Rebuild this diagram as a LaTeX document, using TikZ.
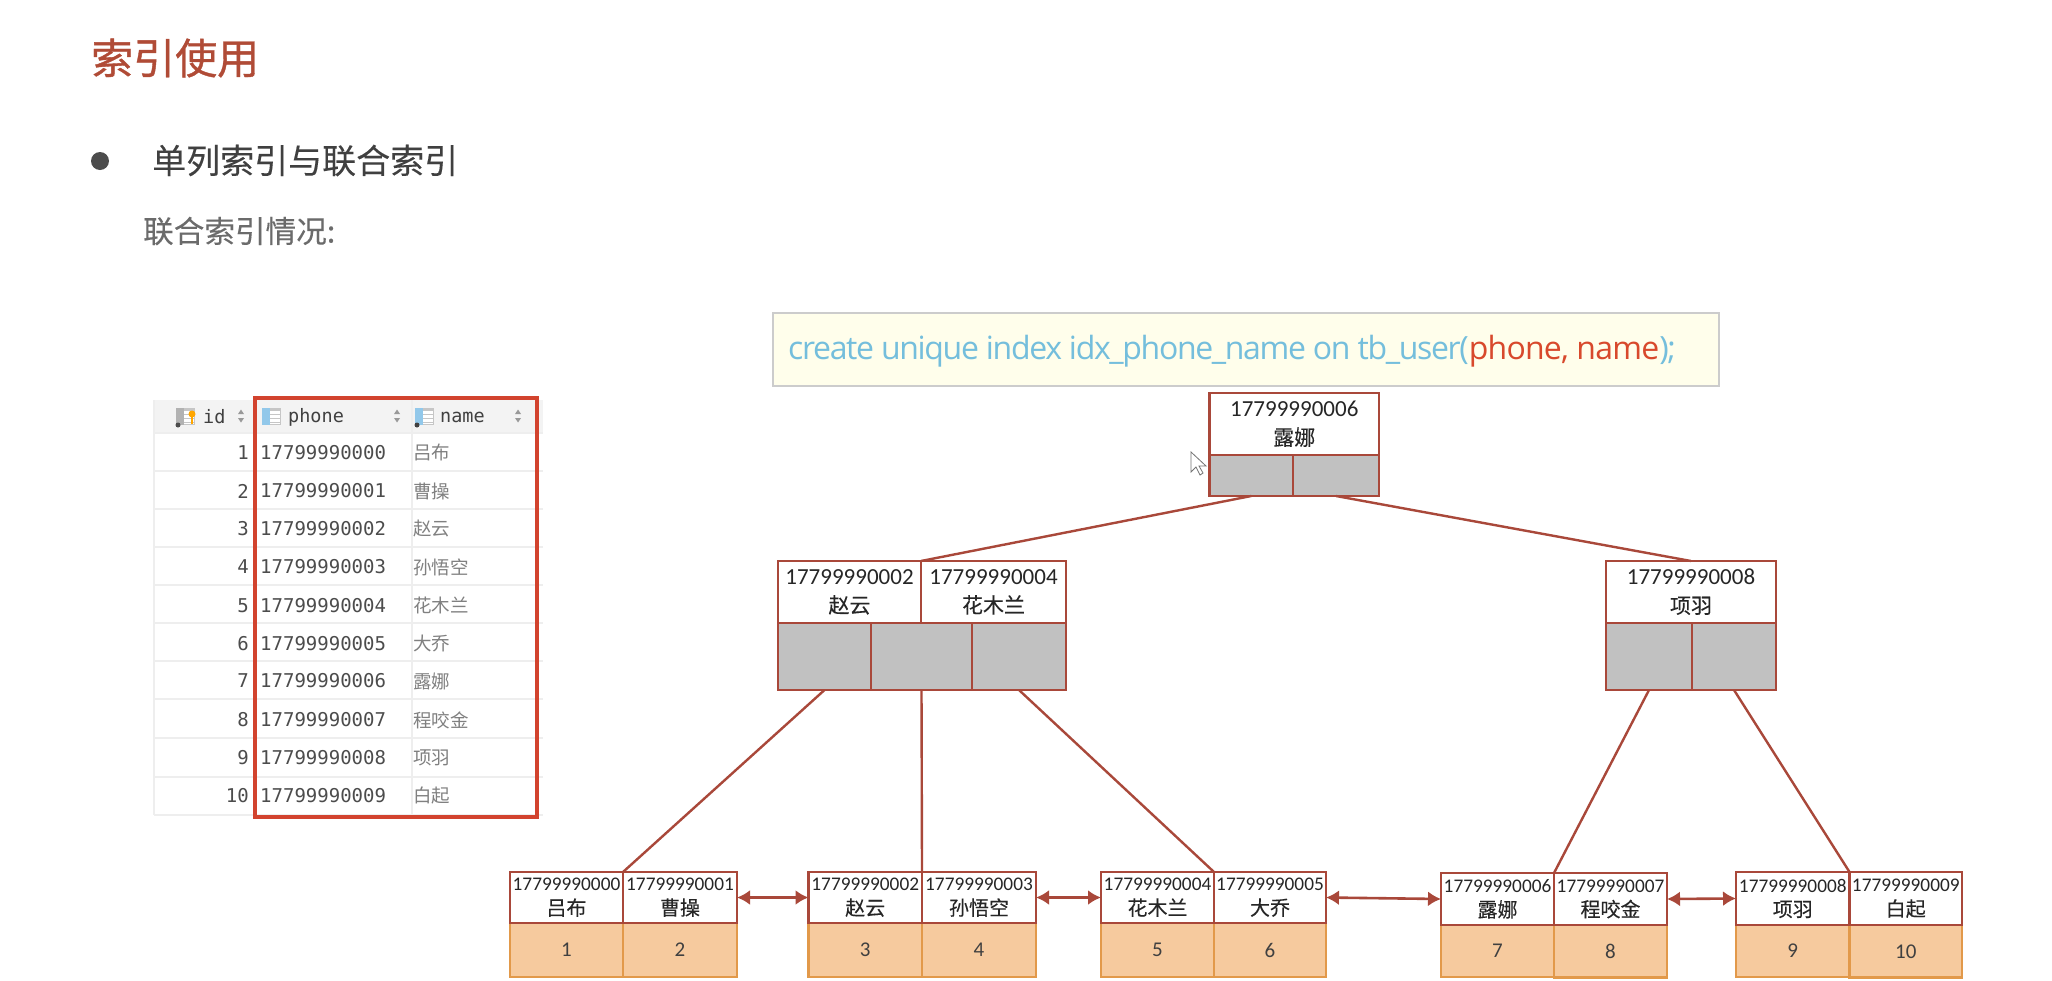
\documentclass[tikz,border=0pt]{standalone}
\usepackage{fontspec}
\setmainfont{Carlito}
\newfontfamily\cjk{Noto Sans CJK SC}
\newfontfamily\cjkheavy[FakeBold=0.9]{Noto Sans CJK SC}
\newfontfamily\cjkmid[FakeBold=0.2]{Noto Sans CJK SC}
\newfontfamily\codefont[LetterSpace=-4.2]{Open Sans}
\newfontfamily\codefontred[LetterSpace=-2.4]{Open Sans}
\newfontfamily\monof{DejaVu Sans Mono}
\usetikzlibrary{arrows.meta}
\definecolor{brick}{HTML}{A9483A}
\definecolor{titlered}{HTML}{B04B36}
\definecolor{cellgray}{HTML}{C1C1C1}
\definecolor{leaffill}{HTML}{F6CA9E}
\definecolor{leafline}{HTML}{E2994A}
\definecolor{codeblue}{HTML}{74BEDC}
\definecolor{codered}{HTML}{D8492C}
\definecolor{boxred}{HTML}{D2432E}
\definecolor{gridc}{HTML}{EEEEEE}
\definecolor{headc}{HTML}{F3F3F3}
\definecolor{iconblue}{HTML}{92C8EA}
\newcommand{\cellbox}[7]{%
  \pgfmathsetmacro\cw{#4-(#2)}\pgfmathsetmacro\ch{#5-(#3)}%
  \node[#6,minimum width=\cw pt,minimum height=\ch pt] (#1) at ({(#2+#4)/2},{(#3+#5)/2}) {#7};}
\newcommand{\colicon}[3]{% x, y, colour of first strip
  \fill[gray!45] (#1,#2) rectangle ++(19,17);
  \fill[white] (#1+8,#2+1.5) rectangle ++(10,14);
  \foreach \q in {2,6,10,14}{\fill[gray!45] (#1+8,#2+\q) rectangle ++(10,1.2);}
  \fill[#3] (#1,#2) rectangle ++(7.5,17);}
\newcommand{\sorticon}[1]{%
  \fill[gray!80] (#1-3,414) -- (#1+3,414) -- (#1,409.5) -- cycle;
  \fill[gray!80] (#1-3,418) -- (#1+3,418) -- (#1,422.5) -- cycle;}
\newcommand{\bigname}[1]{{\cjkmid\fontsize{21}{24}\selectfont\raisebox{-1.5pt}{#1}}}
\newcommand{\smallname}[1]{{\cjkmid\fontsize{20}{24}\selectfont\raisebox{-0.5pt}{#1}}}
\tikzset{
  cellbase/.style={rectangle,inner sep=0pt,outer sep=0pt,align=center,line width=2.3pt},
  bigkey/.style={cellbase,draw=brick,fill=white,text=black!85,font=\fontsize{23}{27}\selectfont},
  smallkey/.style={cellbase,draw=brick,fill=white,text=black!85,font=\fontsize{19.3}{24}\selectfont},
  ptr/.style={cellbase,draw=brick,fill=cellgray},
  leafdata/.style={cellbase,draw=leafline,fill=leaffill,text=black!75,font=\fontsize{21}{24}\selectfont},
  link/.style={draw=brick,line width=2.4pt},
  sibling/.style={draw=brick,line width=2.6pt,{Latex[length=13pt,width=15pt]}-{Latex[length=13pt,width=15pt]}},
  monotext/.style={inner sep=0pt,text=black!70,font=\monof\fontsize{19}{19}\selectfont},
  nametext/.style={anchor=west,inner sep=0pt,text=black!50,font=\cjk\fontsize{18.5}{19}\selectfont},
  headtext/.style={anchor=west,inner sep=0pt,text=black!75,font=\monof\fontsize{18.5}{19}\selectfont},
  grid line/.style={draw=gridc,line width=1.2pt},
}
\begin{document}
\begin{tikzpicture}[x=1pt,y=-1pt]
\useasboundingbox (0,0) rectangle (2052,980);
\fill[white] (0,0) rectangle (2052,980);
% headings
\node[anchor=west,inner sep=0pt,text=titlered,font=\cjkheavy\fontsize{42}{42}\selectfont] (title) at (91,58) {索引使用};
\fill[black!70] (100,161) circle (9);
\node[anchor=west,inner sep=0pt,text=black!75,font=\cjkmid\fontsize{34}{34}\selectfont] (sub) at (152,160.5) {单列索引与联合索引};
\node[anchor=west,inner sep=0pt,text=black!58,font=\cjkmid\fontsize{30.6}{31}\selectfont] (sub2) at (143,231) {联合索引情况:};
% table
\fill[headc] (154,400) rectangle (543,433);
\foreach \yy in {433,471,509,547,585,623,661,699,738,777,815}{\draw[grid line] (154,\yy) -- (543,\yy);}
\draw[grid line] (154,400) -- (154,815);
\draw[grid line] (412,400) -- (412,815);
\colicon{176}{408}{gray!60}
\fill[black!70] (178,425) circle (2.5);
\fill[orange!70!yellow] (192,414) circle (3.5);
\fill[orange!70!yellow] (191,414) rectangle (193,424);
\colicon{262}{408}{iconblue}
\colicon{415}{408}{iconblue}
\fill[black!75] (417,425) circle (2.5);
\sorticon{241}
\sorticon{397}
\sorticon{518}
\node[headtext] (hid) at (203,417) {id};
\node[headtext] (hphone) at (288,417) {phone};
\node[headtext] (hname) at (440,417) {name};
\foreach \i/\yy/\ph/\nm in {1/452.7/17799990000/吕布,2/491/17799990001/曹操,3/528.5/17799990002/赵云,4/567/17799990003/孙悟空,5/605.5/17799990004/花木兰,6/643.5/17799990005/大乔,7/681/17799990006/露娜,8/720/17799990007/程咬金,9/757.5/17799990008/项羽,10/795.5/17799990009/白起}{
  \node[monotext,anchor=east] (rid\i) at (249,\yy) {\i};
  \node[monotext,anchor=west] (rph\i) at (260,\yy) {\ph};
  \node[nametext] (rnm\i) at (413,\yy) {\nm};
}
\draw[boxred,line width=3.2pt] (255,398) rectangle (537,817);
% sql
\node[rectangle,draw=black!20,fill=yellow!8,line width=1.5pt,inner sep=0pt,minimum width=946pt,minimum height=73pt,anchor=north west] (sql) at (772,312) {};
\node[anchor=west,inner sep=0pt,text=codeblue,font=\codefont\fontsize{32}{32}\selectfont] (sqltext) at (788,351) {create unique index idx\_phone\_name on tb\_user({\codefontred\textcolor{codered}{phone, name}});};
% cursor
\draw[black!55,fill=white,line width=0.8pt] (1191,452) -- (1191,472) -- (1196,467) -- (1200,475) -- (1203,473) -- (1199,466) -- (1206,466) -- cycle;
% root
\cellbox{rk}{1209.5}{393}{1379}{455}{bigkey}{17799990006\\\bigname{露娜}}
\cellbox{rp1}{1209.5}{455}{1293}{496}{ptr}{}
\cellbox{rp2}{1293}{455}{1379}{496}{ptr}{}
% left internal node
\cellbox{lk1}{778}{561}{921}{623}{bigkey}{17799990002\\\bigname{赵云}}
\cellbox{lk2}{921}{561}{1066}{623}{bigkey}{17799990004\\\bigname{花木兰}}
\cellbox{lp1}{778}{623}{871}{690}{ptr}{}
\cellbox{lp2}{871}{623}{972}{690}{ptr}{}
\cellbox{lp3}{972}{623}{1066}{690}{ptr}{}
% right internal node
\cellbox{gk}{1606}{561}{1776}{623}{bigkey}{17799990008\\\bigname{项羽}}
\cellbox{gp1}{1606}{623}{1692}{690}{ptr}{}
\cellbox{gp2}{1692}{623}{1776}{690}{ptr}{}
% leaves: data
\cellbox{d1}{510}{923}{623}{977}{leafdata}{1}
\cellbox{d2}{623}{923}{737}{977}{leafdata}{2}
\cellbox{d3}{808.5}{923}{922}{977}{leafdata}{3}
\cellbox{d4}{922}{923}{1036}{977}{leafdata}{4}
\cellbox{d5}{1101}{923}{1214}{977}{leafdata}{5}
\cellbox{d6}{1214}{923}{1326}{977}{leafdata}{6}
\cellbox{d7}{1441}{925}{1554}{977}{leafdata}{7}
\cellbox{d8}{1554}{925}{1667}{977.5}{leafdata}{8}
\cellbox{d9}{1736}{925}{1849.5}{977}{leafdata}{9}
\cellbox{d10}{1849.5}{925}{1962}{977.5}{leafdata}{10}
% leaves: keys
\cellbox{k1}{510}{872}{623}{923}{smallkey}{17799990000\\\smallname{吕布}}
\cellbox{k2}{623}{872}{737}{923}{smallkey}{17799990001\\\smallname{曹操}}
\cellbox{k3}{808.5}{872}{922}{923}{smallkey}{17799990002\\\smallname{赵云}}
\cellbox{k4}{922}{872}{1036}{923}{smallkey}{17799990003\\\smallname{孙悟空}}
\cellbox{k5}{1101}{872}{1214}{923}{smallkey}{17799990004\\\smallname{花木兰}}
\cellbox{k6}{1214}{872}{1326}{923}{smallkey}{17799990005\\\smallname{大乔}}
\cellbox{k7}{1441}{873}{1554}{925}{smallkey}{17799990006\\\smallname{露娜}}
\cellbox{k8}{1554}{873}{1667}{925}{smallkey}{17799990007\\\smallname{程咬金}}
\cellbox{k9}{1736}{872}{1849.5}{925}{smallkey}{17799990008\\\smallname{项羽}}
\cellbox{k10}{1849.5}{872}{1962}{925}{smallkey}{17799990009\\\smallname{白起}}
% tree edges
\draw[link] (rp1.south) -- (lk1.north east);
\draw[link] (rp2.south) -- (gk.north);
\draw[link] (lp1.south) -- (k1.north east);
\draw[link] (lp2.south) -- (k3.north east);
\draw[link] (lp3.south) -- (k5.north east);
\draw[link] (gp1.south) -- (k7.north east);
\draw[link] (gp2.south) -- (k9.north east);
% leaf links
\draw[sibling] (k2.east) -- (k3.west);
\draw[sibling] (k4.east) -- (k5.west);
\draw[sibling] (k6.east) -- (k7.west);
\draw[sibling] (k8.east) -- (k9.west);
\end{tikzpicture}
\end{document}
